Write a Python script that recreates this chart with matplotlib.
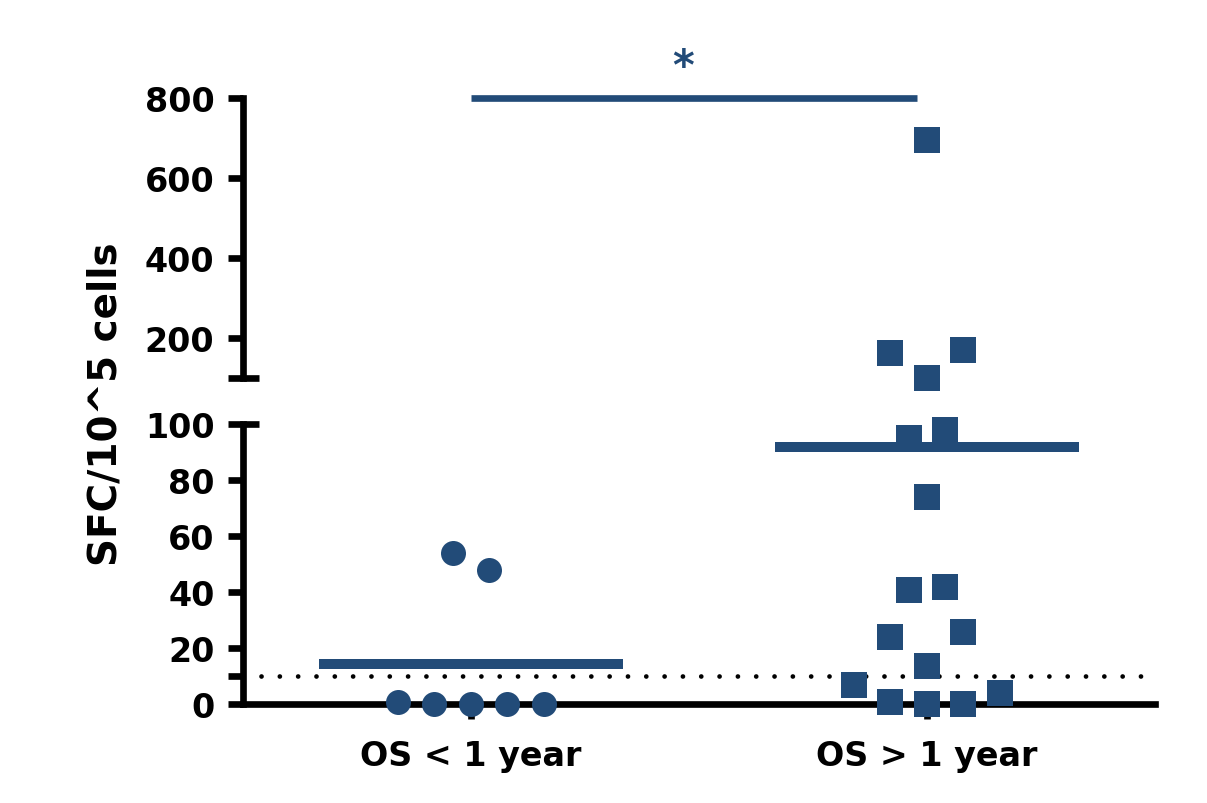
import matplotlib
matplotlib.use('Agg')
import matplotlib.pyplot as plt
from matplotlib import transforms

# groups and values
groups = ['OS < 1 year', 'OS > 1 year']
short_jitter = [-0.16, -0.08, 0.0, 0.08, 0.16, -0.04, 0.04]
short_vals = [0.6, 0, 0, 0, 0, 53.8, 48]
long_jitter = [0.0, -0.08, 0.08, 0.0, -0.04, 0.04, 0.0, -0.04, 0.04,
               -0.08, 0.08, 0.0, -0.16, -0.08, 0.0, 0.08, 0.16]
long_vals = [695, 163, 171.5, 102, 94.9, 97.9, 73.8, 40.8, 41.9,
             23.9, 25.8, 13.7, 6.8, 0.7, 0, 0, 3.8]
medians = [14.3, 91.9]
detect_limit = 10
sig_level = 800
top_ticks = [100, 200, 400, 600, 800]
top_labels = ['', '200', '400', '600', '800']
bot_ticks = [0, 10, 20, 40, 60, 80, 100]
bot_labels = ['0', '', '20', '40', '60', '80', '100']

blue = '#224B78'
lw_axis = 4.8
font = dict(family=['DejaVu Sans'], weight='bold')

fig = plt.figure(figsize=(12.07, 8.04), dpi=100)
ax_top = fig.add_axes([0.2013, 0.5282, 0.7556, 0.3483])
ax_bot = fig.add_axes([0.2013, 0.1231, 0.7556, 0.3483])

for ax in (ax_top, ax_bot):
    ax.set_xlim(-0.5, 1.5)
    ax.spines['top'].set_visible(False)
    ax.spines['right'].set_visible(False)
    for s in ax.spines.values():
        s.set_linewidth(lw_axis)
    ax.tick_params(axis='y', length=10.5, width=lw_axis, pad=10, labelsize=24)
    ax.patch.set_alpha(0)
ax_top.spines['bottom'].set_visible(False)
ax_top.set_xticks([])

ax_top.set_ylim(100, 800)
ax_top.set_yticks(top_ticks)
ax_top.set_yticklabels(top_labels, **font)

ax_bot.set_ylim(0, 100)
ax_bot.set_yticks(bot_ticks)
ax_bot.set_yticklabels(bot_labels, **font)
ax_bot.set_xticks([0, 1])
ax_bot.set_xticklabels(groups, fontsize=24, **font)
ax_bot.tick_params(axis='x', length=10.5, width=lw_axis, pad=15)

# break caps on the right side of the spine
for ax in (ax_top, ax_bot):
    tr = transforms.blended_transform_factory(ax.transAxes, ax.transData)
    ax.plot([0, 16 / 912], [100, 100], transform=tr, color='black',
            lw=lw_axis, solid_capstyle='butt', clip_on=False)

# detection limit
ax_bot.plot([-0.46, 1.5], [detect_limit, detect_limit], color='black', lw=3.4,
            linestyle=(0, (0.01, 3.87)), dash_capstyle='round', zorder=2)

# points
sx = [0 + j for j in short_jitter]
ax_bot.plot(sx, short_vals, 'o', color=blue, markersize=18, mew=0,
            clip_on=False, zorder=3)

lx = [1 + j for j in long_jitter]
lo = [(x, y) for x, y in zip(lx, long_vals) if y <= 100]
hi = [(x, y) for x, y in zip(lx, long_vals) if y > 100]
ax_bot.plot([p[0] for p in lo], [p[1] for p in lo], 's', color=blue,
            markersize=18.2, mew=0, clip_on=False, zorder=3)
ax_top.plot([p[0] for p in hi], [p[1] for p in hi], 's', color=blue,
            markersize=18.2, mew=0, clip_on=False, zorder=3)

# medians
for g, m in enumerate(medians):
    ax_bot.plot([g - 0.333, g + 0.333], [m, m], color=blue, lw=7.2,
                solid_capstyle='butt', zorder=4, clip_on=False)

# significance bar
ax_top.plot([0, 0.978], [sig_level, sig_level], color=blue, lw=lw_axis,
            solid_capstyle='butt', clip_on=False)
ax_top.text(0.466, 930, '*', color=blue, fontsize=30, ha='center', va='top',
            clip_on=False, **font)

fig.text(0.087, 0.4975, 'SFC/10^5 cells', rotation=90, ha='center', va='center',
         fontsize=28, **font)

fig.savefig('out.png', dpi=100)
